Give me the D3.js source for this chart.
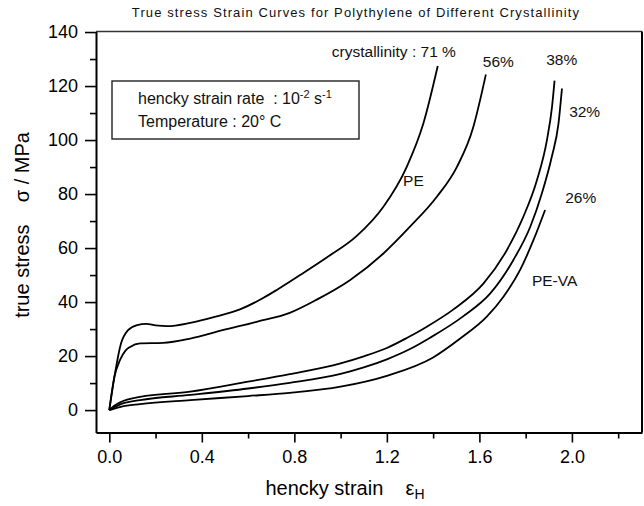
<!DOCTYPE html>
<html><head><meta charset="utf-8">
<script src="https://cdn.jsdelivr.net/npm/d3@7"></script>
<style>body{margin:0;background:#fff}svg{display:block}text{font-family:"Liberation Sans",Arial,sans-serif;white-space:pre}</style>
</head><body>
<svg id="c" width="644" height="506"></svg>
<script>
// Data (strain, true stress MPa)
const c71 = [[0,0],[0.022,12.3],[0.05,24.5],[0.08,29.5],[0.12,31.5],[0.16,31.9],[0.2,31.4],[0.25,31.1],[0.35,32.3],[0.46,34.6],[0.565,37.3],[0.665,41.5],[0.724,44.5],[0.78,47.5],[0.825,50],[0.94,56.5],[1.07,64.5],[1.185,75.3],[1.286,90.1],[1.358,106.2],[1.42,127.4]];
const c56 = [[0,0],[0.022,12.3],[0.046,18.5],[0.07,22],[0.09,23.4],[0.133,24.7],[0.232,24.9],[0.35,26.5],[0.49,29.6],[0.637,32.7],[0.78,36],[0.897,40.9],[1.04,48.1],[1.185,58],[1.30,67.9],[1.416,79],[1.503,90.1],[1.574,104.9],[1.603,114.8],[1.628,124.3]];
const c38 = [[0,0],[0.02,1.5],[0.05,3],[0.133,4.9],[0.35,6.8],[0.6,10.5],[0.78,13.3],[1.0,17.3],[1.1,19.9],[1.2,23],[1.286,26.7],[1.373,30.9],[1.488,37.3],[1.618,46.9],[1.719,59.3],[1.79,71.6],[1.849,85.2],[1.892,100],[1.914,112.3],[1.925,122]];
const c32 = [[0,0],[0.05,2.2],[0.133,3.7],[0.35,5.6],[0.6,8],[0.78,10.1],[1.0,13.4],[1.1,15.8],[1.2,18.8],[1.3,22.6],[1.387,26.8],[1.531,34.8],[1.647,43.2],[1.747,55.6],[1.82,67.9],[1.87,80.2],[1.913,93.8],[1.942,106.2],[1.957,119.1]];
const c26 = [[0,0],[0.05,1.2],[0.133,2.2],[0.35,3.7],[0.6,5.2],[0.78,6.4],[1.0,8.7],[1.2,12.7],[1.4,19.5],[1.517,26.5],[1.632,34.6],[1.704,42],[1.776,51.9],[1.834,63],[1.884,74.1]];
const xMajor = [0,0.4,0.8,1.2,1.6,2.0];
const xMinor = [0.2,0.6,1.0,1.4,1.8,2.2];
const yMajor = [0,20,40,60,80,100,120,140];
const yMinor = [10,30,50,70,90,110,130];
const curveLabels = [
  {t:"crystallinity : 71 %", x:0.962, y:130.9},
  {t:"56%", x:1.615, y:127.1},
  {t:"38%", x:1.889, y:127.8},
  {t:"32%", x:1.988, y:108.5},
  {t:"PE", x:1.270, y:83.1},
  {t:"26%", x:1.971, y:76.7},
  {t:"PE-VA", x:1.827, y:46.1}
];

const svg = d3.select("#c");
const L=96, R=642, T=31.5, B=432.5;
const x = d3.scaleLinear().domain([-0.0575, 2.303]).range([L, R]);
const y = d3.scaleLinear().domain([-8.3, 140.2]).range([B, T]);

// frame
svg.append("line").attr("x1",L).attr("x2",R).attr("y1",T).attr("y2",T).attr("stroke","#333").attr("stroke-width",1.3);
svg.append("line").attr("x1",R).attr("x2",R).attr("y1",T).attr("y2",B).attr("stroke","#000").attr("stroke-width",2);

// axes
const xAxis = d3.axisBottom(x).tickValues(xMajor).tickFormat(d3.format(".1f")).tickSize(10).tickSizeOuter(0).tickPadding(8);
const gx = svg.append("g").attr("transform",`translate(0,${B})`).call(xAxis);
gx.selectAll("text").attr("font-size",18).attr("font-family","Liberation Sans, Arial, sans-serif").attr("fill","#000");
const gxm = svg.append("g").attr("transform",`translate(0,${B})`).call(d3.axisBottom(x).tickValues(xMinor).tickSize(6).tickSizeOuter(0).tickFormat(""));
gxm.select(".domain").remove();

const yAxis = d3.axisLeft(y).tickValues(yMajor).tickSize(11).tickSizeOuter(0).tickPadding(7);
const gy = svg.append("g").attr("transform",`translate(${L},0)`).call(yAxis);
gy.selectAll("text").attr("font-size",18).attr("font-family","Liberation Sans, Arial, sans-serif").attr("fill","#000");
const gym = svg.append("g").attr("transform",`translate(${L},0)`).call(d3.axisLeft(y).tickValues(yMinor).tickSize(6).tickSizeOuter(0).tickFormat(""));
gym.select(".domain").remove();
svg.selectAll(".domain").attr("stroke-width",2).attr("stroke","#000");
svg.selectAll(".tick line").attr("stroke-width",1.6).attr("stroke","#000");

// curves
const line = d3.line().x(d=>x(d[0])).y(d=>y(d[1])).curve(d3.curveMonotoneX);
[c71,c56,c38,c32,c26].forEach(c=>{
  svg.append("path").datum(c).attr("d",line).attr("fill","none").attr("stroke","#000").attr("stroke-width",1.8);
});

// curve labels
curveLabels.forEach(l=>{
  svg.append("text").attr("x",x(l.x)).attr("y",y(l.y)).attr("font-size",15.5).attr("fill","#111").text(l.t);
});

// legend box
svg.append("rect").attr("x",112).attr("y",81).attr("width",247).attr("height",58).attr("fill","#fff").attr("stroke","#222").attr("stroke-width",1.4);
const t1 = svg.append("text").attr("x",138).attr("y",104).attr("font-size",16).attr("fill","#111");
t1.append("tspan").text("hencky strain rate  : 10");
t1.append("tspan").attr("font-size",11).attr("dy",-6).text("-2");
t1.append("tspan").attr("dy",6).text(" s");
t1.append("tspan").attr("font-size",11).attr("dy",-6).text("-1");
svg.append("text").attr("x",138).attr("y",127).attr("font-size",16).attr("fill","#111").text("Temperature : 20° C");

// title
svg.append("text").attr("x",356).attr("y",17).attr("text-anchor","middle").attr("font-family","DejaVu Sans, sans-serif").attr("font-size",13).attr("letter-spacing",1.1).attr("fill","#111").text("True stress Strain Curves for Polythylene of Different Crystallinity");

// axis titles
const xt = svg.append("text").attr("x",345).attr("y",495).attr("text-anchor","middle").attr("font-size",20).attr("fill","#000");
xt.append("tspan").text("hencky strain    \u03B5");
xt.append("tspan").attr("font-size",14).attr("dy",4).text("H");
svg.append("text").attr("transform","translate(29,225) rotate(-90)").attr("text-anchor","middle").attr("font-size",20).attr("fill","#000").text("true stress    \u03C3 / MPa");
</script>
</body></html>
